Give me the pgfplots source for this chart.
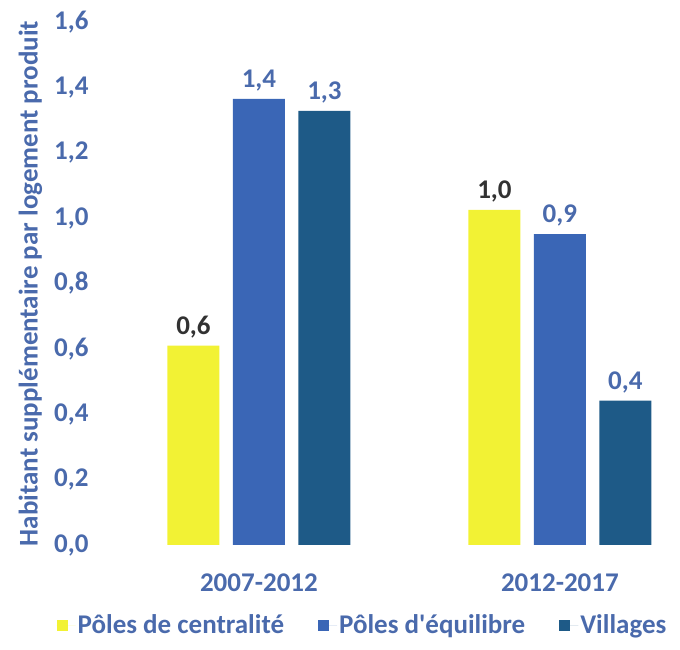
\documentclass[border=0pt]{standalone}
\usepackage{pgfplots}
\pgfplotsset{compat=1.18}
\usepackage{fontspec}
\setmainfont{Carlito}
\definecolor{cyel}{RGB}{242,242,52}
\definecolor{cblue}{RGB}{58,102,182}
\definecolor{cteal}{RGB}{30,90,135}
\definecolor{ctext}{RGB}{74,106,172}
\definecolor{cdark}{RGB}{50,50,50}
\newcommand{\bigf}{\fontsize{27}{32}\selectfont\bfseries}
\begin{document}
\begin{tikzpicture}[font=\bigf]
\begin{axis}[
  scale only axis,
  width=580pt, height=523pt,
  xmin=-0.528, xmax=1.399,
  ymin=0, ymax=1.6,
  ytick={0,0.2,...,1.6},
  xtick={0,1},
  xticklabels={2007-2012,2012-2017},
  axis line style={draw=none},
  tick style={draw=none},
  major tick length=0pt,
  clip=false,
  /pgf/number format/.cd, fixed, fixed zerofill, precision=1, use comma, assume math mode=true,
  /pgfplots/.cd,
  ticklabel style={text=ctext, font=\bigf},
  yticklabel style={xshift=-8pt},
  xticklabel style={yshift=-25pt},
  ylabel={Habitant supplémentaire par logement produit},
  ylabel style={at={(axis description cs:-0.12,0.5)}, anchor=center, text=ctext, font=\bigf},
  ybar, bar width=0.173,
  point meta=explicit symbolic,
  nodes near coords={\pgfplotspointmeta},
  nodes near coords style={font=\bigf, anchor=south, yshift=4pt},
  legend columns=3,
  legend style={draw=none, fill=none, at={(axis description cs:0.4526,-0.153)}, anchor=center,
    text=ctext, font=\bigf, inner sep=0pt,
    /tikz/every even column/.append style={column sep=32pt}},
  legend image code/.code={\fill[#1] (0pt,-6pt) rectangle (11pt,5pt); \path (0pt,0pt) -- (19pt,0pt);},
]
\addplot[fill=cyel, draw=none, bar shift=-0.2176, nodes near coords style={text=cdark}]
  coordinates {(0,0.61) [0,6] (1,1.025) [1,0]};
\addplot[fill=cblue, draw=none, bar shift=0, nodes near coords style={text=ctext}]
  coordinates {(0,1.365) [1,4] (1,0.951) [0,9]};
\addplot[fill=cteal, draw=none, bar shift=0.2176, nodes near coords style={text=ctext}]
  coordinates {(0,1.328) [1,3] (1,0.442) [0,4]};
\legend{Pôles de centralité, Pôles d\textquotesingle équilibre, Villages}
\end{axis}
\path (current axis.south west) ++(-100pt,-105pt) (current axis.north east) ++(0pt,22pt);
\end{tikzpicture}
\end{document}
